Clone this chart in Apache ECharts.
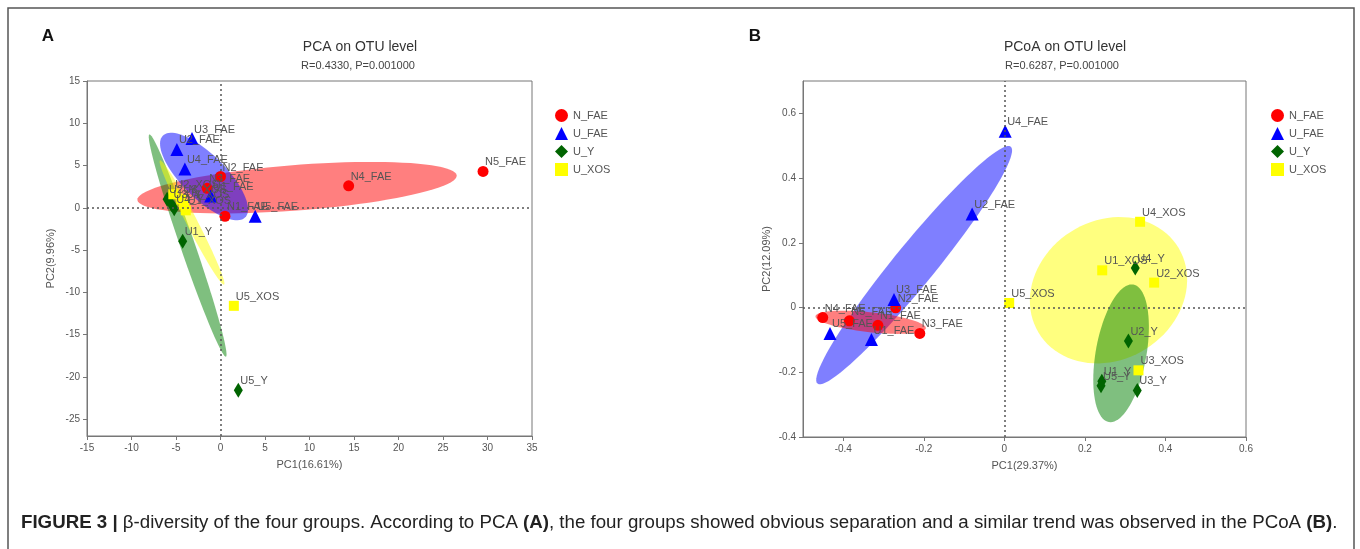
<!DOCTYPE html>
<html>
<head>
<meta charset="utf-8">
<script src="https://cdn.jsdelivr.net/npm/echarts@6/dist/echarts.min.js"></script>
<style>
html, body { margin: 0; padding: 0; background: #fff; }
#chart { width: 1360px; height: 549px; }
</style>
</head>
<body>
<div id="chart"></div>
<script>
// groups and legend
var groups = ['N_FAE', 'U_FAE', 'U_Y', 'U_XOS'];

// PCA points: [name, PC1, PC2]
var pcaNFae = [['N1_FAE', 0.5, -1.0], ['N2_FAE', 0, 3.7], ['N3_FAE', -1.5, 2.3], ['N4_FAE', 14.4, 2.6], ['N5_FAE', 29.5, 4.3]];
var pcaUFae = [['U1_FAE', -1.1, 1.4], ['U2_FAE', -4.9, 6.9], ['U3_FAE', -3.2, 8.2], ['U4_FAE', -4.0, 4.6], ['U5_FAE', 3.9, -1.0]];
var pcaUY = [['U1_Y', -4.25, -3.95], ['U2_Y', -6.0, 1.0], ['U3_Y', -5.5, 0.4], ['U4_Y', -5.2, -0.1], ['U5_Y', 2.0, -21.6]];
var pcaUXos = [['U1_XOS', -3.9, -0.3], ['U2_XOS', -5.3, 1.6], ['U3_XOS', -4.4, 1.0], ['U4_XOS', -4.1, 0.4], ['U5_XOS', 1.5, -11.6]];

// PCoA points: [name, PC1, PC2]
var pcoaNFae = [['N1_FAE', -0.314, -0.055], ['N2_FAE', -0.27, -0.001], ['N3_FAE', -0.21, -0.08], ['N4_FAE', -0.451, -0.031], ['N5_FAE', -0.385, -0.041]];
var pcoaUFae = [['U1_FAE', -0.33, -0.099], ['U2_FAE', -0.08, 0.289], ['U3_FAE', -0.274, 0.025], ['U4_FAE', 0.002, 0.545], ['U5_FAE', -0.433, -0.08]];
var pcoaUY = [['U1_Y', 0.242, -0.228], ['U2_Y', 0.308, -0.103], ['U3_Y', 0.33, -0.256], ['U4_Y', 0.325, 0.122], ['U5_Y', 0.24, -0.242]];
var pcoaUXos = [['U1_XOS', 0.243, 0.115], ['U2_XOS', 0.372, 0.077], ['U3_XOS', 0.333, -0.194], ['U4_XOS', 0.337, 0.265], ['U5_XOS', 0.012, 0.014]];

// confidence ellipses: [centerX, centerY, axis1X, axis1Y, axis2X, axis2Y] in data units
var pcaEllipses = {
	N_FAE: [8.6, 2.38, 17.94, 1.45, 0.2, -2.68],
	U_FAE: [-1.85, 3.7, 4.63, -4.83, 1.73, 1.86],
	U_Y: [-3.69, -4.47, 4.30, -13.15, 0.78, 0.28],
	U_XOS: [-3.2, -1.74, 3.6, -7.35, 0.55, 0.3]
};
var pcoaEllipses = {
	N_FAE: [-0.332, -0.0455, 0.137, -0.0186, -0.0027, -0.0307],
	U_FAE: [-0.224, 0.131, 0.240, 0.366, 0.0395, -0.04],
	U_Y: [0.2898, -0.1414, -0.0304, -0.2125, 0.062, -0.0135],
	U_XOS: [0.2586, 0.0535, 0.1945, 0.0124, 0.0175, 0.2258]
};

// tick labels
var pcaXTicks = [-15, -10, -5, 0, 5, 10, 15, 20, 25, 30, 35];
var pcaYTicks = [-25, -20, -15, -10, -5, 0, 5, 10, 15];
var pcoaXTicks = [-0.4, -0.2, 0, 0.2, 0.4, 0.6];
var pcoaYTicks = [-0.4, -0.2, 0, 0.2, 0.4, 0.6];

var font = 'Liberation Sans, Arial, sans-serif';
var symbols = {
	N_FAE: { symbol: 'circle', size: 11, color: '#ff0000', fill: 'rgba(255,0,0,0.5)' },
	U_FAE: { symbol: 'triangle', size: 13, color: '#0000ff', fill: 'rgba(0,0,255,0.5)' },
	U_Y: { symbol: 'diamond', size: [9, 15], color: '#006400', fill: 'rgba(0,128,0,0.5)' },
	U_XOS: { symbol: 'rect', size: 10, color: '#ffff00', fill: 'rgba(255,255,0,0.5)' }
};

var chart = echarts.init(document.getElementById('chart'));

function axisBase(min, max, ticks) {
	return {
		type: 'value',
		min: min,
		max: max,
		splitLine: { show: false },
		axisLine: { show: true, onZero: false, lineStyle: { color: '#777', width: 1 } },
		axisTick: { show: true, length: 4, customValues: ticks, lineStyle: { color: '#777' } },
		axisLabel: { customValues: ticks, color: '#555', fontSize: 10, fontFamily: font, margin: 7 },
		nameLocation: 'middle',
		nameTextStyle: { color: '#555', fontSize: 11, fontFamily: font }
	};
}

//椭圆
function ellipseSeries(name, params, axisIndex) {
	return {
		type: 'custom',
		name: name + '_ellipse',
		xAxisIndex: axisIndex,
		yAxisIndex: axisIndex,
		z: 1,
		silent: true,
		animation: false,
		encode: { x: 0, y: 1 },
		data: [params],
		renderItem: function(p, api) {
			var cx = api.value(0), cy = api.value(1);
			var ux = api.value(2), uy = api.value(3);
			var vx = api.value(4), vy = api.value(5);
			var pts = [];
			for (var k = 0; k < 90; k++) {
				var t = k / 90 * Math.PI * 2;
				pts.push(api.coord([cx + ux * Math.cos(t) + vx * Math.sin(t), cy + uy * Math.cos(t) + vy * Math.sin(t)]));
			}
			return { type: 'polygon', shape: { points: pts }, style: { fill: symbols[name].fill } };
		}
	};
}

//散点
function scatterSeries(name, list, axisIndex, withZero) {
	var s = symbols[name];
	var w = Array.isArray(s.size) ? s.size[0] : s.size;
	var h = Array.isArray(s.size) ? s.size[1] : s.size;
	var series = {
		type: 'scatter',
		name: name,
		xAxisIndex: axisIndex,
		yAxisIndex: axisIndex,
		z: 3,
		symbol: s.symbol,
		symbolSize: s.size,
		itemStyle: { color: s.color, opacity: 1 },
		animation: false,
		label: {
			show: true,
			position: [w / 2 + 2, h / 2 - 9],
			align: 'left',
			verticalAlign: 'middle',
			color: '#555',
			fontSize: 11,
			fontFamily: font,
			formatter: '{b}'
		},
		data: list.map(function(d) {
			return { name: d[0], value: [d[1], d[2]] };
		})
	};
	if (withZero) {
		series.markLine = {
			silent: true,
			symbol: 'none',
			animation: false,
			label: { show: false },
			lineStyle: { type: [2, 3], color: '#555', width: 1.5 },
			data: [{ xAxis: 0 }, { yAxis: 0 }]
		};
	}
	return series;
}

var pcaData = { N_FAE: pcaNFae, U_FAE: pcaUFae, U_Y: pcaUY, U_XOS: pcaUXos };
var pcoaData = { N_FAE: pcoaNFae, U_FAE: pcoaUFae, U_Y: pcoaUY, U_XOS: pcoaUXos };

var series = [];
// left: red, blue, green, yellow
['N_FAE', 'U_FAE', 'U_Y', 'U_XOS'].forEach(function(g) {
	series.push(ellipseSeries(g, pcaEllipses[g], 0));
});
// right: blue, red, yellow, green
['U_FAE', 'N_FAE', 'U_XOS', 'U_Y'].forEach(function(g) {
	series.push(ellipseSeries(g, pcoaEllipses[g], 1));
});
groups.forEach(function(g, i) {
	series.push(scatterSeries(g, pcaData[g], 0, i === 0));
});
groups.forEach(function(g, i) {
	series.push(scatterSeries(g, pcoaData[g], 1, i === 0));
});

var xA0 = axisBase(-15, 35, pcaXTicks);
xA0.gridIndex = 0; xA0.name = 'PC1(16.61%)'; xA0.nameGap = 23;
var yA0 = axisBase(-27, 15, pcaYTicks);
yA0.gridIndex = 0; yA0.name = 'PC2(9.96%)'; yA0.nameGap = 31;
var xA1 = axisBase(-0.5, 0.6, pcoaXTicks);
xA1.gridIndex = 1; xA1.name = 'PC1(29.37%)'; xA1.nameGap = 23;
var yA1 = axisBase(-0.4, 0.7, pcoaYTicks);
yA1.gridIndex = 1; yA1.name = 'PC2(12.09%)'; yA1.nameGap = 31;

function legendAt(left) {
	return {
		data: groups,
		orient: 'vertical',
		left: left,
		top: 104,
		itemWidth: 13,
		itemHeight: 13,
		itemGap: 5,
		selectedMode: false,
		textStyle: { color: '#555', fontSize: 11, fontFamily: font }
	};
}

var option = {
	backgroundColor: '#fff',
	animation: false,
	grid: [
		{ left: 87, top: 81, width: 445, height: 355, show: true, borderColor: '#777', borderWidth: 1 },
		{ left: 803, top: 81, width: 443, height: 356, show: true, borderColor: '#777', borderWidth: 1 }
	],
	xAxis: [xA0, xA1],
	yAxis: [yA0, yA1],
	legend: [legendAt(550), legendAt(1266)],
	series: series,
	graphic: [
		{ type: 'rect', shape: { x: 8, y: 8, width: 1346, height: 545 }, style: { fill: 'none', stroke: '#555', lineWidth: 1.5 }, silent: true },
		{ type: 'text', x: 48, y: 36, style: { text: 'A', font: 'bold 17px ' + font, fill: '#111', align: 'center', verticalAlign: 'middle' } },
		{ type: 'text', x: 755, y: 36, style: { text: 'B', font: 'bold 17px ' + font, fill: '#111', align: 'center', verticalAlign: 'middle' } },
		{ type: 'text', x: 360, y: 47, style: { text: 'PCA on OTU level', font: '14px ' + font, fill: '#333', align: 'center', verticalAlign: 'middle' } },
		{ type: 'text', x: 358, y: 66, style: { text: 'R=0.4330, P=0.001000', font: '11px ' + font, fill: '#444', align: 'center', verticalAlign: 'middle' } },
		{ type: 'text', x: 1065, y: 47, style: { text: 'PCoA on OTU level', font: '14px ' + font, fill: '#333', align: 'center', verticalAlign: 'middle' } },
		{ type: 'text', x: 1062, y: 66, style: { text: 'R=0.6287, P=0.001000', font: '11px ' + font, fill: '#444', align: 'center', verticalAlign: 'middle' } },
		{
			type: 'text', x: 21, y: 523,
			style: {
				text: '{b|FIGURE 3 |} β-diversity of the four groups. According to PCA {b|(A)}, the four groups showed obvious separation and a similar trend was observed in the PCoA {b|(B)}.',
				font: '18.7px ' + font,
				fill: '#222',
				verticalAlign: 'middle',
				rich: { b: { fontWeight: 'bold', fontSize: 18.7, fontFamily: font, fill: '#222' } }
			}
		}
	]
};

chart.setOption(option);
</script>
</body>
</html>
